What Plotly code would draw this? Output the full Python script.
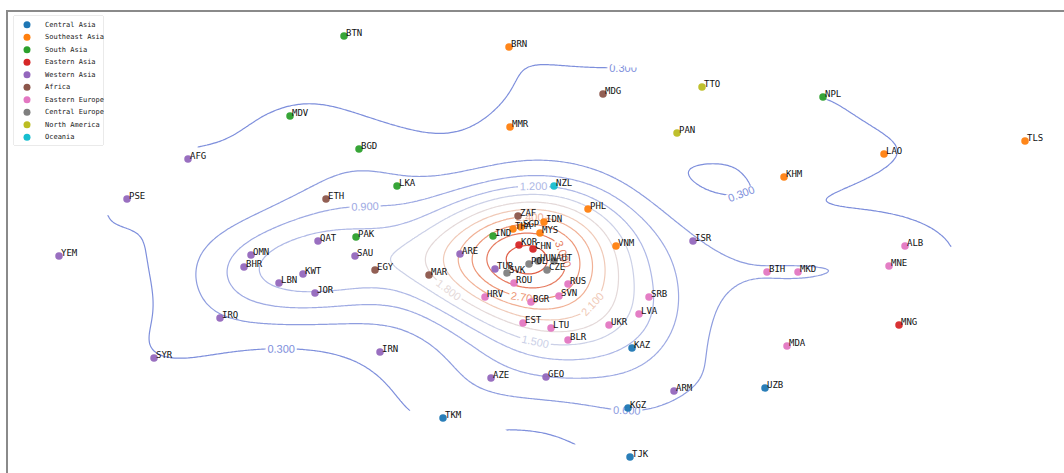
import numpy as np
import plotly.graph_objects as go

# ---------------- data (two embedding dimensions per country) ----------------
regions = ["Central Asia", "Southeast Asia", "South Asia", "Eastern Asia", "Western Asia",
           "Africa", "Eastern Europe", "Central Europe", "North America", "Oceania"]
region_colors = ["#1f77b4", "#ff7f0e", "#2ca02c", "#d62728", "#9467bd",
                 "#8c564b", "#e377c2", "#7f7f7f", "#bcbd22", "#17becf"]

central_asia_codes = ["KAZ", "TKM", "KGZ", "TJK", "UZB"]
central_asia_x = [1.02, -0.87, 0.98, 1.00, 2.35]
central_asia_y = [-0.98, -1.68, -1.58, -2.07, -1.38]

southeast_asia_codes = ["BRN", "MMR", "KHM", "LAO", "TLS", "PHL", "IDN", "MYS", "THA", "SGP", "VNM"]
southeast_asia_x = [-0.21, -0.20, 2.54, 3.54, 4.95, 0.58, 0.14, 0.10, -0.17, -0.09, 0.86]
southeast_asia_y = [2.03, 1.23, 0.73, 0.96, 1.09, 0.41, 0.28, 0.17, 0.21, 0.23, 0.04]

south_asia_codes = ["BTN", "MDV", "BGD", "LKA", "PAK", "IND", "NPL"]
south_asia_x = [-1.86, -2.40, -1.71, -1.33, -1.74, -0.37, 2.93]
south_asia_y = [2.14, 1.34, 1.01, 0.64, 0.13, 0.14, 1.53]

eastern_asia_codes = ["KOR", "CHN", "MNG"]
eastern_asia_x = [-0.11, 0.03, 3.69]
eastern_asia_y = [0.05, 0.01, -0.75]

western_asia_codes = ["AFG", "PSE", "YEM", "QAT", "OMN", "BHR", "KWT", "LBN", "JOR", "IRQ",
                      "SYR", "IRN", "SAU", "ARE", "TUR", "AZE", "GEO", "ARM", "ISR"]
western_asia_x = [-3.42, -4.03, -4.71, -2.12, -2.79, -2.86, -2.27, -2.51, -2.15, -3.10,
                  -3.76, -1.50, -1.75, -0.70, -0.35, -0.39, 0.16, 1.44, 1.63]
western_asia_y = [0.91, 0.51, -0.06, 0.09, -0.05, -0.17, -0.24, -0.33, -0.43, -0.68,
                  -1.08, -1.02, -0.06, -0.04, -0.19, -1.28, -1.27, -1.41, 0.09]

africa_codes = ["ETH", "EGY", "MAR", "ZAF", "MDG"]
africa_x = [-2.04, -1.55, -1.01, -0.12, 0.73]
africa_y = [0.51, -0.20, -0.25, 0.34, 1.56]

eastern_europe_codes = ["ROU", "HRV", "BGR", "RUS", "SVN", "EST", "LTU", "BLR", "UKR", "LVA",
                        "SRB", "BIH", "MKD", "ALB", "MNE", "MDA"]
eastern_europe_x = [-0.16, -0.45, 0.01, 0.38, 0.29, -0.07, 0.21, 0.38, 0.79, 1.09,
                    1.19, 2.37, 2.68, 3.75, 3.59, 2.57]
eastern_europe_y = [-0.33, -0.47, -0.52, -0.34, -0.46, -0.73, -0.78, -0.90, -0.75, -0.64,
                    -0.47, -0.22, -0.22, 0.04, -0.16, -0.96]

central_europe_codes = ["SVK", "POL", "HUN", "AUT", "CZE"]
central_europe_x = [-0.23, -0.01, 0.08, 0.24, 0.17]
central_europe_y = [-0.23, -0.14, -0.11, -0.11, -0.20]

north_america_codes = ["TTO", "PAN"]
north_america_x = [1.72, 1.47]
north_america_y = [1.63, 1.17]

oceania_codes = ["NZL"]
oceania_x = [0.24]
oceania_y = [0.64]

groups = [
    (central_asia_codes, central_asia_x, central_asia_y),
    (southeast_asia_codes, southeast_asia_x, southeast_asia_y),
    (south_asia_codes, south_asia_x, south_asia_y),
    (eastern_asia_codes, eastern_asia_x, eastern_asia_y),
    (western_asia_codes, western_asia_x, western_asia_y),
    (africa_codes, africa_x, africa_y),
    (eastern_europe_codes, eastern_europe_x, eastern_europe_y),
    (central_europe_codes, central_europe_x, central_europe_y),
    (north_america_codes, north_america_x, north_america_y),
    (oceania_codes, oceania_x, oceania_y),
]

# contour levels of the density surface
level_start, level_end, level_step = 0.3, 3.3, 0.3
peak_density = 3.42

# ---------------- layout constants ----------------
W, H = 1064, 473
ML, MT = 8, 12
X_RANGE = [-5.22, 5.34]
Y_RANGE = [-2.23, 2.38]

all_x = np.array(sum([list(g[1]) for g in groups], []))
all_y = np.array(sum([list(g[2]) for g in groups], []))

# ---------------- kernel density surface, masked to the convex hull ----------------
gx = np.linspace(all_x.min(), all_x.max(), 360)
gy = np.linspace(all_y.min(), all_y.max(), 200)
GX, GY = np.meshgrid(gx, gy)
hx, hy = 0.62, 0.34
dens = np.zeros_like(GX)
for px, py in zip(all_x, all_y):
    dens += np.exp(-0.5 * (((GX - px) / hx) ** 2 + ((GY - py) / hy) ** 2))
dens = dens / dens.max() * peak_density


def convex_hull(pts):
    pts = sorted(set(pts))
    def cross(o, a, b):
        return (a[0] - o[0]) * (b[1] - o[1]) - (a[1] - o[1]) * (b[0] - o[0])
    lower, upper = [], []
    for p in pts:
        while len(lower) >= 2 and cross(lower[-2], lower[-1], p) <= 0:
            lower.pop()
        lower.append(p)
    for p in reversed(pts):
        while len(upper) >= 2 and cross(upper[-2], upper[-1], p) <= 0:
            upper.pop()
        upper.append(p)
    return lower[:-1] + upper[:-1]


hull = convex_hull(list(zip(all_x.tolist(), all_y.tolist())))
inside = np.ones_like(GX, dtype=bool)
for i in range(len(hull)):
    ax_, ay_ = hull[i]
    bx_, by_ = hull[(i + 1) % len(hull)]
    cr = (bx_ - ax_) * (GY - ay_) - (by_ - ay_) * (GX - ax_)
    inside &= cr >= -1e-9
dens_masked = np.where(inside, dens, np.nan)

fig = go.Figure()

fig.add_trace(go.Contour(
    x=gx, y=gy, z=dens_masked,
    contours=dict(start=level_start, end=level_end, size=level_step,
                  coloring="lines", showlabels=True,
                  labelfont=dict(size=11, family="Liberation Sans"),
                  labelformat=".3f"),
    line=dict(width=1.2),
    colorscale=[[0.0, "#7e8fdc"], [0.3, "#aeb8e6"], [0.45, "#d9dce8"],
                [0.55, "#efd6ca"], [0.75, "#f1a584"], [1.0, "#df5f48"]],
    zmin=level_start, zmax=level_end, zauto=False,
    showscale=False, connectgaps=False, hoverinfo="skip",
))

annotations = []
for (codes, xs, ys), name, col in zip(groups, regions, region_colors):
    fig.add_trace(go.Scatter(
        x=xs, y=ys, mode="markers", name=name, showlegend=False,
        marker=dict(size=7.5, color=col, opacity=0.95),
        hovertext=codes,
    ))
    for c, x, y in zip(codes, xs, ys):
        annotations.append(dict(x=x, y=y, xref="x", yref="y", text=c, showarrow=False,
                                xanchor="left", yanchor="middle", xshift=0, yshift=3,
                                font=dict(size=9, family="DejaVu Sans Mono", color="#111111")))

# ---------------- hand-built legend on an overlay axis ----------------
LEG_X0, LEG_X1, LEG_Y0, LEG_Y1 = 14, 103, 16, 145   # legend box edges in pixels
plot_w, plot_h = W - ML, H - MT
dom_x = [(LEG_X0 - ML) / plot_w, (LEG_X1 - ML) / plot_w]
dom_y = [(H - LEG_Y1) / plot_h, (H - LEG_Y0) / plot_h]
leg_w, leg_h = LEG_X1 - LEG_X0, LEG_Y1 - LEG_Y0
leg_rows = [8.7 + 12.5 * i for i in range(len(regions))]
fig.add_trace(go.Scatter(
    x=[13] * len(regions), y=leg_rows, xaxis="x2", yaxis="y2", mode="markers",
    marker=dict(size=7, color=region_colors), showlegend=False, hoverinfo="skip",
))
for name, yy in zip(regions, leg_rows):
    annotations.append(dict(x=29, y=yy, xref="x2", yref="y2", text=name, showarrow=False,
                            xanchor="left", yanchor="middle",
                            font=dict(size=7, family="DejaVu Sans Mono", color="#222222")))

fig.update_layout(
    width=W, height=H,
    margin=dict(l=ML, r=0, t=MT, b=0),
    paper_bgcolor="white", plot_bgcolor="white",
    showlegend=False,
    xaxis=dict(range=X_RANGE, showgrid=False, zeroline=False, showticklabels=False,
               ticks="", showline=True, linecolor="#8a8a8a", linewidth=1.5, side="top",
               mirror=False),
    yaxis=dict(range=Y_RANGE, showgrid=False, zeroline=False, showticklabels=False,
               ticks="", showline=True, linecolor="#8a8a8a", linewidth=1.5, mirror=False),
    xaxis2=dict(domain=dom_x, range=[0, leg_w], visible=False, anchor="y2"),
    yaxis2=dict(domain=dom_y, range=[leg_h, 0], visible=False, anchor="x2"),
    annotations=annotations,
    shapes=[dict(type="rect", xref="x2 domain", yref="y2 domain", x0=0, x1=1, y0=0, y1=1,
                 line=dict(color="#d6d6d6", width=1), fillcolor="white", layer="below")],
)

fig.write_html("out.html")
